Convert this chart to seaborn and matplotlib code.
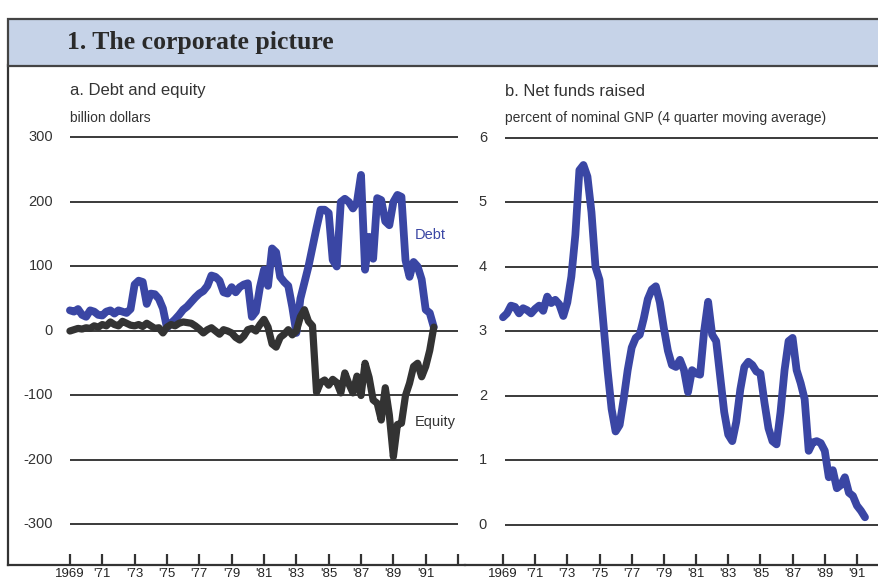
# The corporate picture: debt, equity and net funds raised

import numpy as np
import matplotlib.pyplot as plt
import seaborn as sns
from matplotlib.patches import Rectangle

# Data (quarterly, 1969:Q1 - 1991:Q3)

quarters = np.arange(1969, 1991.51, 0.25)

debt = [
    32, 30, 34, 25, 22, 32, 30, 25, 24, 30, 32, 27, 32, 30, 28, 34,
    72, 78, 76, 42, 58, 57, 50, 35, 5, 12, 18, 25, 33, 38, 45, 52,
    58, 62, 70, 86, 84, 78, 60, 58, 68, 60, 68, 72, 74, 22, 30, 68,
    95, 70, 128, 122, 84, 76, 70, 37, -3, 50, 75, 100, 130, 160, 188, 188,
    183, 110, 100, 200, 205, 200, 190, 200, 242, 95, 146, 112, 206, 203, 170, 164,
    200, 211, 208, 110, 84, 107, 100, 80, 33, 28, 6,
]

equity = [
    0, 2, 4, 3, 5, 4, 8, 6, 10, 8, 14, 10, 8, 15, 12, 9,
    8, 10, 7, 12, 8, 4, 5, -3, 6, 10, 8, 12, 14, 13, 12, 8,
    3, -3, 2, 5, 0, -5, 2, 0, -3, -10, -14, -8, 2, 4, 0, 10,
    18, 6, -20, -25, -10, -5, 2, -6, 0, 22, 33, 15, 8, -95, -80, -76,
    -84, -75, -80, -96, -65, -82, -96, -70, -100, -50, -72, -107, -112, -138, -88, -130,
    -195, -145, -143, -100, -81, -55, -50, -71, -55, -30, 6,
]

net_funds = [
    3.22, 3.28, 3.40, 3.38, 3.28, 3.36, 3.33, 3.28, 3.35, 3.40, 3.32, 3.54, 3.44, 3.49, 3.42, 3.24,
    3.45, 3.85, 4.50, 5.50, 5.58, 5.40, 4.85, 4.00, 3.80, 3.10, 2.40, 1.80, 1.45, 1.55, 1.95, 2.40,
    2.75, 2.90, 2.95, 3.20, 3.50, 3.65, 3.70, 3.45, 3.05, 2.70, 2.48, 2.45, 2.56, 2.40, 2.06, 2.40,
    2.35, 2.33, 3.00, 3.46, 2.95, 2.85, 2.30, 1.75, 1.40, 1.30, 1.60, 2.10, 2.45, 2.53, 2.48, 2.38,
    2.35, 1.90, 1.50, 1.30, 1.25, 1.75, 2.40, 2.85, 2.90, 2.40, 2.20, 1.95, 1.15, 1.28, 1.30, 1.27,
    1.15, 0.74, 0.85, 0.57, 0.62, 0.74, 0.50, 0.45, 0.30, 0.22, 0.12,
]

left_yticks = [300, 200, 100, 0, -100, -200, -300]
right_yticks = [6, 5, 4, 3, 2, 1, 0]

left_xticks = list(range(1969, 1994, 2))
left_xlabels = ["1969", "'71", "'73", "'75", "'77", "'79", "'81", "'83", "'85", "'87", "'89", "'91", ""]
right_xticks = list(range(1969, 1992, 2))
right_xlabels = ["1969", "'71", "'73", "'75", "'77", "'79", "'81", "'83", "'85", "'87", "'89", "'91"]

# Style

sns.set_style("white")
plt.rcParams['font.family'] = ['Liberation Sans', 'DejaVu Sans']

blue = '#3a46a4'
dark = '#333333'
grid_color = '#3a3a3a'

W, H = 879, 584
fig = plt.figure(figsize=(W / 100, H / 100), dpi=100)


def px_box(x0, y0, x1, y1):
    # pixel box (top-left origin) -> figure fraction rect
    return [x0 / W, 1 - y1 / H, (x1 - x0) / W, (y1 - y0) / H]


ax1 = fig.add_axes(px_box(8, 65, 465, 565))
ax2 = fig.add_axes(px_box(465, 65, 879, 565))

# Title bar
fig.patches.append(Rectangle((8 / W, 1 - 66 / H), 1.0, 47 / H, transform=fig.transFigure,
                             facecolor='#c6d3e8', edgecolor='#444444', linewidth=1.6))
fig.text(67 / W, 1 - 42 / H, "1. The corporate picture", family='Liberation Serif',
         fontweight='bold', fontsize=18.5, color='#2a2a2a', va='center', ha='left')

# Panel a: debt and equity

ax1.hlines(left_yticks, 1969, 1993, color=grid_color, linewidth=1.4)
sns.lineplot(x=quarters, y=debt, ax=ax1, color=blue, linewidth=5.6)
sns.lineplot(x=quarters, y=equity, ax=ax1, color=dark, linewidth=5.2)

ax1.set_xlim(1965.17, 1993.43)
ax1.set_ylim(-362.8, 412.4)
ax1.set_yticks([])
ax1.set_xticks(left_xticks)
ax1.set_xticklabels(left_xlabels)

for v in left_yticks:
    ax1.text(0.0985, v, str(v), transform=ax1.get_yaxis_transform(),
             ha='right', va='center', fontsize=10.5, color='#333333')

ax1.text(1990.33, 149, "Debt", color=blue, fontsize=10.5, ha='left', va='center')
ax1.text(1990.33, -141, "Equity", color=dark, fontsize=10.5, ha='left', va='center')

# Panel b: net funds raised

ax2.hlines(right_yticks, 1969.1, 1994, color=grid_color, linewidth=1.4)
sns.lineplot(x=quarters, y=net_funds, ax=ax2, color=blue, linewidth=5.6)

ax2.set_xlim(1966.64, 1992.37)
ax2.set_ylim(-0.62, 7.13)
ax2.set_yticks([])
ax2.set_xticks(right_xticks)
ax2.set_xticklabels(right_xlabels)

for v in right_yticks:
    ax2.text(0.053, v, str(v), transform=ax2.get_yaxis_transform(),
             ha='right', va='center', fontsize=10.5, color='#333333')

# Axes cosmetics
for ax, show_left in [(ax1, True), (ax2, False)]:
    ax.set_xlabel("")
    ax.set_ylabel("")
    ax.set_facecolor('none')
    ax.spines['top'].set_visible(False)
    ax.spines['right'].set_visible(False)
    ax.spines['left'].set_visible(show_left)
    ax.spines['bottom'].set_color('#333333')
    ax.spines['bottom'].set_linewidth(1.6)
    ax.spines['left'].set_color('#333333')
    ax.spines['left'].set_linewidth(1.6)
    ax.tick_params(axis='x', bottom=True, direction='in', length=8, width=1.6, color='#333333',
                   labelsize=9.5, labelcolor='#222222', pad=2.5)

# Panel titles
fig.text(70 / W, 1 - 91 / H, "a. Debt and equity", fontsize=12, color='#333333', va='center')
fig.text(70 / W, 1 - 118 / H, "billion dollars", fontsize=10, color='#333333', va='center')
fig.text(505 / W, 1 - 91 / H, "b. Net funds raised", fontsize=12, color='#333333', va='center')
fig.text(505 / W, 1 - 118 / H, "percent of nominal GNP (4 quarter moving average)",
         fontsize=10, color='#333333', va='center')

plt.savefig("out.png", dpi=100)
